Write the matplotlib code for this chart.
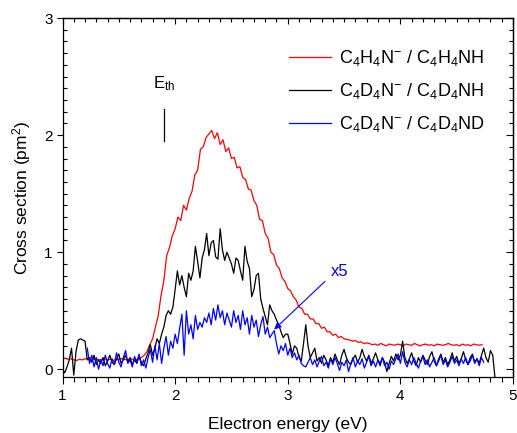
import numpy as np
import matplotlib
matplotlib.use("Agg")
import matplotlib.pyplot as plt
from matplotlib.ticker import MultipleLocator, NullFormatter

plt.rcParams['font.family'] = ['Liberation Sans', 'DejaVu Sans']
plt.rcParams['mathtext.default'] = 'regular'

# ---------------- data ----------------
# red: C4H4N- / C4H4NH, energies 1.000 .. 4.725 step 0.025
red_start, red_step = 1.0, 0.025
red_y = [
    0.09, 0.095, 0.085, 0.09, 0.08, 0.075, 0.085, 0.08, 0.09, 0.085,
    0.08, 0.085, 0.09, 0.08, 0.085, 0.09, 0.08, 0.085, 0.075, 0.085,
    0.08, 0.09, 0.085, 0.08, 0.09, 0.085, 0.08, 0.09, 0.10, 0.12,
    0.15, 0.21, 0.26, 0.36, 0.46, 0.63, 0.76, 0.97, 1.04, 1.14,
    1.20, 1.30, 1.27, 1.40, 1.36, 1.46, 1.52, 1.66, 1.70, 1.88,
    1.90, 1.98, 2.01, 2.04, 1.97, 2.02, 1.92, 1.96, 1.86, 1.89,
    1.80, 1.81, 1.72, 1.73, 1.64, 1.62, 1.54, 1.53, 1.44, 1.40,
    1.28, 1.27, 1.16, 1.12, 1.00, 0.98, 0.89, 0.86, 0.78, 0.75,
    0.69, 0.67, 0.62, 0.59, 0.53, 0.52, 0.47, 0.47, 0.43, 0.43,
    0.39, 0.39, 0.35, 0.36, 0.32, 0.32, 0.29, 0.30, 0.27, 0.28,
    0.26, 0.255, 0.25, 0.24, 0.245, 0.23, 0.235, 0.22, 0.225, 0.22,
    0.21, 0.215, 0.205, 0.22, 0.21, 0.20, 0.215, 0.21, 0.205, 0.215,
    0.21, 0.20, 0.215, 0.21, 0.205, 0.22, 0.21, 0.20, 0.21, 0.215,
    0.205, 0.21, 0.20, 0.215, 0.21, 0.205, 0.21, 0.22, 0.21, 0.205,
    0.21, 0.20, 0.215, 0.205, 0.21, 0.20, 0.215, 0.21, 0.205, 0.21,
]

# black: C4D4N- / C4D4NH, energies 1.00 .. 4.84 step 0.02
black_start, black_step = 1.0, 0.02
black_y = [
    0.00, -0.03, 0.02, 0.08, 0.18, -0.05, 0.15, 0.25, 0.26, 0.25,
    0.24, 0.08, 0.10, 0.06, 0.12, 0.04, 0.08, 0.05, 0.10, 0.03,
    0.07, 0.12, 0.06, 0.04, 0.09, 0.13, 0.05, 0.08, 0.12, 0.06,
    0.10, 0.04, 0.08, 0.05, 0.11, 0.06, 0.03, 0.09, 0.14, 0.21,
    0.12, 0.18, 0.26, 0.22, 0.30, 0.36, 0.46, 0.50, 0.47, 0.53,
    0.68, 0.84, 0.72, 0.80, 0.70, 0.62, 0.82, 0.76, 0.84, 1.05,
    0.92, 0.78, 0.95, 1.02, 1.16, 0.97, 1.08, 1.10, 0.96, 0.94,
    1.20, 1.02, 0.93, 1.00, 0.95, 0.90, 0.82, 0.95, 0.93, 0.84,
    0.76, 1.05, 0.92, 0.86, 0.62, 0.68, 0.80, 0.82, 0.60, 0.52,
    0.45, 0.38, 0.55, 0.50, 0.47, 0.42, 0.38, 0.32, 0.27, 0.30,
    0.30, 0.22, 0.13, 0.20, 0.18, 0.10, 0.07, 0.22, 0.38, 0.20,
    0.10, 0.14, 0.18, 0.07, 0.10, 0.05, 0.12, 0.08, 0.03, 0.10,
    0.06, 0.13, 0.08, 0.04, 0.12, 0.17, 0.10, 0.06, 0.04, 0.09,
    0.12, 0.06, 0.10, 0.17, 0.11, 0.07, 0.12, 0.05, 0.09, 0.14,
    0.08, 0.03, 0.10, 0.06, -0.02, 0.05, 0.11, 0.07, 0.13, 0.08,
    0.12, 0.24, 0.10, 0.05, 0.09, 0.14, 0.07, 0.03, 0.10, 0.06,
    0.12, 0.08, 0.04, 0.11, 0.15, 0.07, 0.03, 0.09, 0.13, 0.06,
    0.10, 0.04, 0.08, 0.14, 0.07, 0.11, 0.05, 0.09, 0.15, 0.08,
    0.04, 0.10, 0.13, 0.06, 0.09, 0.05, 0.12, 0.18, 0.10, 0.06,
    0.16, 0.12, -0.07,
]

# blue: C4D4N- / C4D4ND (x5), energies 1.22 .. 4.74 step 0.02
blue_start, blue_step = 1.22, 0.02
blue_y = [
    0.18, 0.05, 0.12, 0.02, 0.10, 0.00, 0.08, 0.03, 0.12, 0.05,
    0.01, 0.09, 0.04, 0.14, 0.06, 0.02, 0.10, 0.16, 0.05, 0.08,
    0.02, 0.11, 0.06, 0.13, 0.03, 0.08, 0.01, 0.10, 0.17, 0.06,
    0.20, 0.08, 0.22, 0.05, 0.18, 0.28, 0.12, 0.24, 0.18, 0.30,
    0.22, 0.35, 0.47, 0.12, 0.50, 0.30, 0.38, 0.26, 0.46, 0.34,
    0.40, 0.36, 0.44, 0.40, 0.48, 0.38, 0.52, 0.42, 0.55, 0.44,
    0.50, 0.38, 0.48, 0.42, 0.36, 0.50, 0.40, 0.46, 0.34, 0.50,
    0.38, 0.44, 0.30, 0.46, 0.36, 0.42, 0.28, 0.38, 0.45, 0.30,
    0.36, 0.27, 0.30, 0.33, 0.22, 0.13, 0.20, 0.16, 0.22, 0.12,
    0.18, 0.10, 0.14, 0.08, 0.12, 0.05, 0.03, 0.02, 0.06, 0.10,
    0.04, 0.08, 0.02, 0.07, 0.11, 0.03, 0.06, 0.01, 0.09, 0.04,
    0.10, 0.05, -0.01, 0.06, 0.03, 0.08, -0.02, 0.05, 0.10, 0.02,
    0.07, 0.04, 0.09, 0.01, 0.06, 0.11, 0.03, 0.07, 0.02, 0.08,
    0.05, 0.10, 0.03, 0.06, 0.00, 0.07, 0.04, 0.09, 0.13, 0.05,
    0.15, 0.06, 0.02, 0.08, 0.04, 0.10, 0.05, 0.01, 0.07, 0.11,
    0.04, 0.08, 0.02, 0.06, 0.10, 0.03, 0.07, 0.12, 0.04, 0.08,
    0.02, 0.06, 0.11, 0.05, 0.08, 0.03, 0.09, 0.05, 0.10, 0.04,
    0.07, 0.12, 0.05, 0.09, 0.03, 0.10, 0.06,
]

labels = [r'C$_4$H$_4$N$^{-}$ / C$_4$H$_4$NH',
          r'C$_4$D$_4$N$^{-}$ / C$_4$D$_4$NH',
          r'C$_4$D$_4$N$^{-}$ / C$_4$D$_4$ND']
colors = ['#ff0000', '#000000', '#0000ff']

x_ticks = [1, 2, 3, 4, 5]
y_ticks = [0, 1, 2, 3]

def energies(start, step, n):
    return start + step * np.arange(n)

red_x = energies(red_start, red_step, len(red_y))
black_x = energies(black_start, black_step, len(black_y))
blue_x = energies(blue_start, blue_step, len(blue_y))

# ---------------- figure ----------------
fig = plt.figure(figsize=(5.17, 4.33), dpi=100)
ax = fig.add_axes([62.5/517, 1-377/433, (513-62.5)/517, (377-18)/433])

ax.plot(red_x, red_y, color=colors[0], lw=0.9, label=labels[0])
ax.plot(black_x, black_y, color=colors[1], lw=0.9, label=labels[1])
ax.plot(blue_x, blue_y, color=colors[2], lw=0.9, label=labels[2])

ax.set_xlim(1, 5)
ax.set_ylim(-0.066, 3)
ax.set_xticks(x_ticks)
ax.set_yticks(y_ticks)
ax.xaxis.set_minor_locator(MultipleLocator(0.1))
ax.yaxis.set_minor_locator(MultipleLocator(0.1))
ax.tick_params(axis='x', which='major', direction='out', length=5, width=0.8, labelsize=11, pad=4)
ax.tick_params(axis='x', which='minor', direction='out', length=3.5, width=0.8)
ax.tick_params(axis='y', which='major', direction='out', length=4, width=0.8, labelsize=11, pad=3)
ax.tick_params(axis='y', which='minor', direction='in', length=3, width=0.8)

sx = ax.secondary_xaxis('top')
sx.set_xticks(x_ticks)
sx.xaxis.set_minor_locator(MultipleLocator(0.1))
sx.xaxis.set_major_formatter(NullFormatter())
sx.tick_params(which='major', direction='in', length=4, width=0.8)
sx.tick_params(which='minor', direction='in', length=3, width=0.8)

sy = ax.secondary_yaxis('right')
sy.set_yticks(y_ticks)
sy.yaxis.set_minor_locator(MultipleLocator(0.1))
sy.yaxis.set_major_formatter(NullFormatter())
sy.tick_params(which='major', direction='in', length=5, width=0.8)
sy.tick_params(which='minor', direction='in', length=3, width=0.8)

for s in list(ax.spines.values()) + list(sx.spines.values()) + list(sy.spines.values()):
    s.set_linewidth(0.9)

ax.set_xlabel('Electron energy (eV)', fontsize=12.5, labelpad=10)
ax.set_ylabel('Cross section (pm$^2$)', fontsize=12.5, labelpad=8)

leg = ax.legend(loc='upper left', bbox_to_anchor=(289/517, 1-48/433),
                bbox_transform=fig.transFigure, frameon=False, fontsize=13,
                handlelength=2.35, handletextpad=0.4, labelspacing=0.72,
                borderaxespad=0, borderpad=0)

# threshold marker
ax.plot([1.90, 1.90], [1.95, 2.22], color='black', lw=0.9)
ax.text(1.90, 2.36, r'E$_{th}$', fontsize=12, ha='center', va='bottom')

# x5 annotation
ax.annotate('', xy=(2.88, 0.34), xytext=(3.33, 0.75),
            arrowprops=dict(arrowstyle='-|>', color='#0000ff', lw=0.8,
                            mutation_scale=10, shrinkA=0, shrinkB=0))
ax.text(3.38, 0.77, 'x5', color='#0000ff', fontsize=12, ha='left', va='bottom')

fig.savefig('out.png', dpi=100)
